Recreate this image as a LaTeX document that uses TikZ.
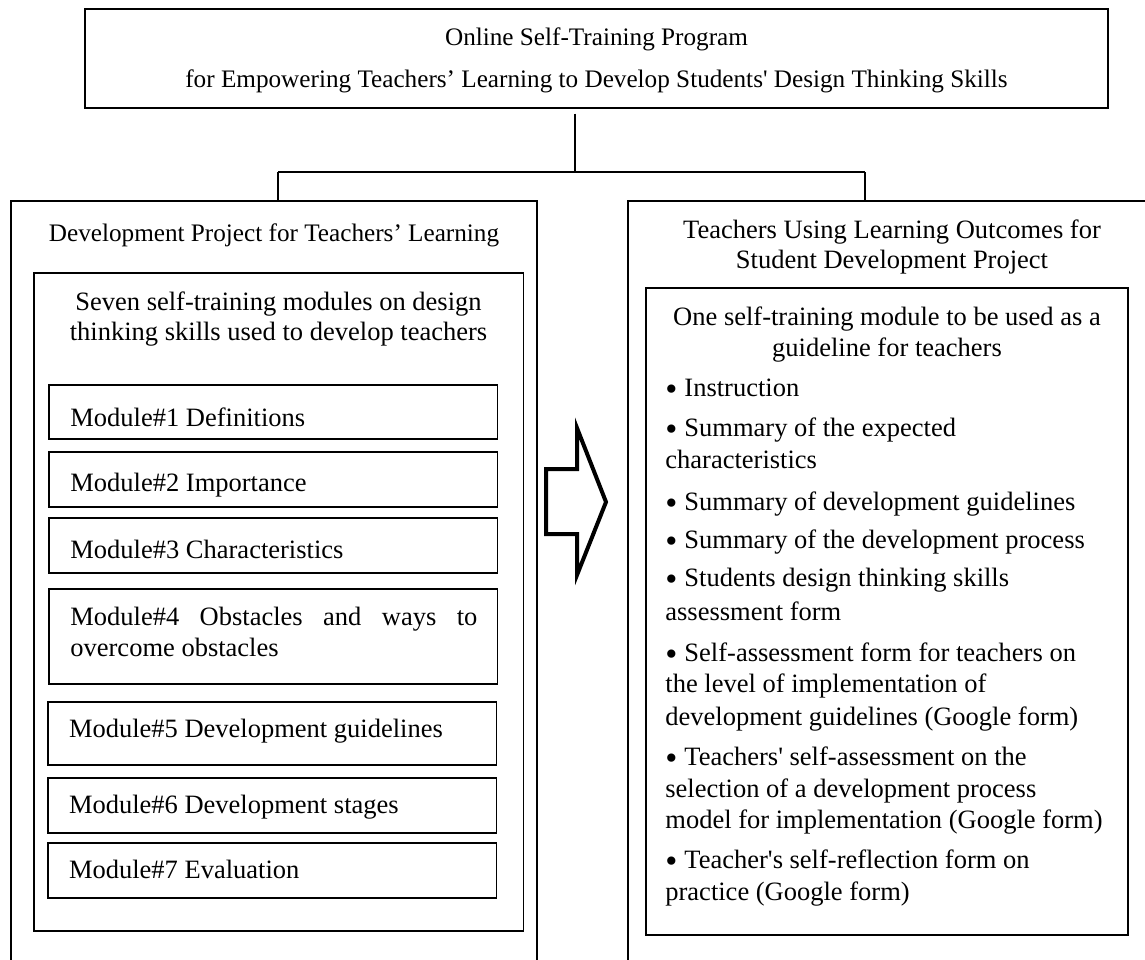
\documentclass[tikz,border=0pt]{standalone}
\usepackage{fontspec}
\setmainfont{Liberation Serif}
\usetikzlibrary{fit}
\newcommand\bul{\makebox[0.72em][l]{\raisebox{-0.18em}{\scalebox{1.3}{•}}}}
\begin{document}
\begin{tikzpicture}[x=0.5pt,y=-0.5pt,
  box/.style={draw=black, line width=0.65pt, inner sep=0pt},
  conn/.style={draw=black, line width=0.65pt},
  bar/.style={draw=black, line width=1.3pt},
  t/.style={anchor=base, inner sep=0pt, font=\fontsize{13.25}{16}\selectfont},
  tl/.style={t, anchor=base west},
  ttl/.style={anchor=base, inner sep=0pt, font=\fontsize{12.6}{16}\selectfont},
  bigarrow/.style={draw=black, line width=2pt, line join=miter, fill=white}]
\useasboundingbox (0,0) rectangle (1145,959);
\clip (0,0) rectangle (1145,959);

% top box
\node[box, fit={(85,9) (1108,108)}] (top) {};
\node[ttl] (top1) at (596.5,45) {Online Self-Training Program};
\node[ttl] (top2) at (596.5,87) {for Empowering Teachers’ Learning to Develop Students\textquotesingle{} Design Thinking Skills};

% left column
\node[box, fit={(11,201) (537,990)}] (left) {};
\node[ttl] (ltitle) at (274,241) {Development Project for Teachers’ Learning};
\node[box, fit={(34,273) (523.6,931)}] (linner) {};
\node[t] (s1) at (278.5,310) {Seven self-training modules on design};
\node[t] (s2) at (278.5,340) {thinking skills used to develop teachers};

\node[box, fit={(49,385) (497.5,439)}] (m1) {};
\node[tl] (m1t) at (70,426) {Module\#1 Definitions};
\node[box, fit={(49,452) (497.5,507)}] (m2) {};
\node[tl] (m2t) at (70,491) {Module\#2 Importance};
\node[box, fit={(49,518) (497.5,573)}] (m3) {};
\node[tl] (m3t) at (70,558) {Module\#3 Characteristics};
\node[box, fit={(49,589) (497.5,684)}] (m4) {};
\node[tl] (m4a) at (70,625) {\hbox to 203.5pt{Module\#4\hfill Obstacles\hfill and\hfill ways\hfill to}};
\node[tl] (m4b) at (70,656) {overcome obstacles};
\node[box, fit={(48,702) (496.4,765)}] (m5) {};
\node[tl] (m5t) at (68.6,737) {Module\#5 Development guidelines};
\node[box, fit={(48,778) (496.4,833)}] (m6) {};
\node[tl] (m6t) at (68.6,813) {Module\#6 Development stages};
\node[box, fit={(48,843) (496.4,898)}] (m7) {};
\node[tl] (m7t) at (68.6,878) {Module\#7 Evaluation};

% right column
\node[box, fit={(628,201) (1200,990)}] (right) {};
\node[t] (rt1) at (892,238) {Teachers Using Learning Outcomes for};
\node[t] (rt2) at (892,268) {Student Development Project};
\node[box, fit={(646,288) (1128,935)}] (rinner) {};
\node[t] (o1) at (887,325) {One self-training module to be used as a};
\node[t] (o2) at (887,356) {guideline for teachers};

\node[tl] (b1) at (665,396) {\bul Instruction};
\node[tl] (b2a) at (665,436) {\bul Summary of the expected};
\node[tl] (b2b) at (665,468) {characteristics};
\node[tl] (b3) at (665,510) {\bul Summary of development guidelines};
\node[tl] (b4) at (665,548) {\bul Summary of the development process};
\node[tl] (b5a) at (665,586) {\bul Students design thinking skills};
\node[tl] (b5b) at (665,620) {assessment form};
\node[tl] (b6a) at (665,661) {\bul Self-assessment form for teachers on};
\node[tl] (b6b) at (665,692) {the level of implementation of};
\node[tl] (b6c) at (665,725) {development guidelines (Google form)};
\node[tl] (b7a) at (665,765) {\bul Teachers\textquotesingle{} self-assessment on the};
\node[tl] (b7b) at (665,797) {selection of a development process};
\node[tl] (b7c) at (665,828) {model for implementation (Google form)};
\node[tl] (b8a) at (665,868) {\bul Teacher\textquotesingle{}s self-reflection form on};
\node[tl] (b8b) at (665,900) {practice (Google form)};

% connectors
\coordinate (j) at (575,172);
\coordinate (jl) at (278,172);
\coordinate (jr) at (865,172);
\draw[conn] ([yshift=-2.5pt]top.south -| j) -- (j);
\draw[bar] (jl) -- (jr);
\draw[conn] (jl) -- (jl |- left.north);
\draw[conn] (jr) -- (jr |- right.north);

% block arrow
\draw[bigarrow] (546,469) -- (577,469) -- (577,428) -- (606,502) -- (577,575) -- (577,534) -- (546,534) -- cycle;
\end{tikzpicture}
\end{document}
